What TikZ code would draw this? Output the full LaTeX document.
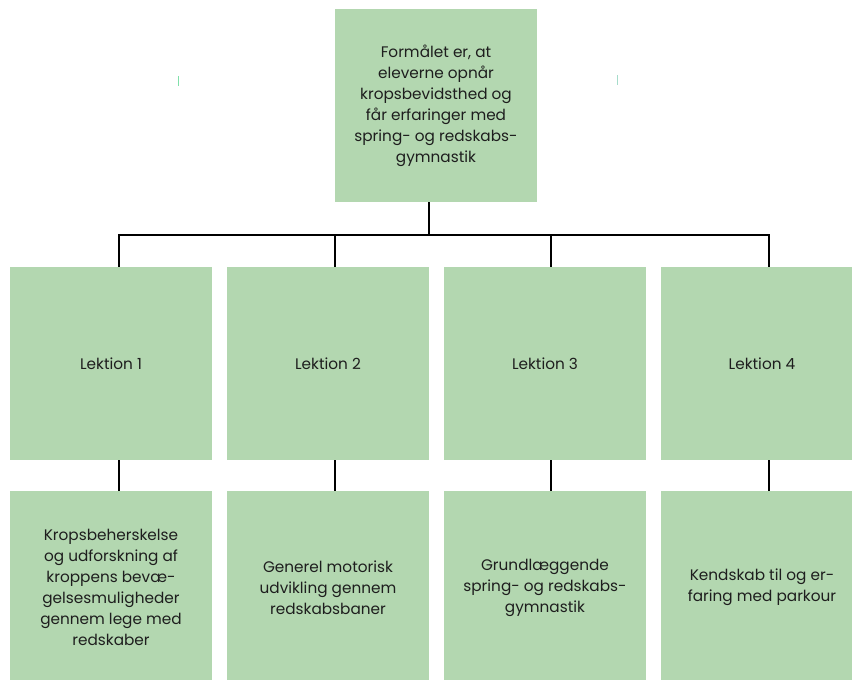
\documentclass[tikz,border=0pt]{standalone}
\usepackage{fontspec}
\setmainfont{Poppins}
\definecolor{boxgreen}{HTML}{B3D7B0}
\definecolor{txt}{HTML}{1E1E1E}
\definecolor{markA}{HTML}{80E0AA}
\definecolor{markB}{HTML}{A6DCCB}
\tikzset{
  box/.style={fill=boxgreen, draw=none, minimum width=202pt, minimum height=193pt,
    inner sep=0pt, align=center, text=txt, font=\fontsize{15.3}{21}\selectfont},
  conn/.style={draw=black, line width=1.2pt},
}
\begin{document}
\begin{tikzpicture}[x=1pt,y=-1pt]
\useasboundingbox (0,0) rectangle (852,680);
\clip (0,0) rectangle (852,680);
\node[box] (top) at (436,105.5) {Formålet er, at\\eleverne opnår\\kropsbevidsthed og\\får erfaringer med\\spring- og redskabs-\\gymnastik};
\node[box] (L1) at (111,363.5) {Lektion 1};
\node[box] (L2) at (328,363.5) {Lektion 2};
\node[box] (L3) at (545,363.5) {Lektion 3};
\node[box] (L4) at (762,363.5) {Lektion 4};
\node[box] (K1) at (111,587.5) {Kropsbeherskelse\\og udforskning af\\kroppens bevæ-\\gelsesmuligheder\\gennem lege med\\redskaber};
\node[box] (K2) at (328,587.5) {Generel motorisk\\udvikling gennem\\redskabsbaner};
\node[box] (K3) at (545,587.5) {Grundlæggende\\spring- og redskabs-\\gymnastik};
\node[box] (K4) at (762,587.5) {Kendskab til og er-\\faring med parkour};
\coordinate (t0) at (429,202);
\coordinate (b1) at (119,235);
\coordinate (b2) at (335,235);
\coordinate (b3) at (551,235);
\coordinate (b4) at (769,235);
\draw[conn] (t0) -- (t0 |- b1);
\draw[conn] (b1 |- L1.north) -- (b1) -- (b4) -- (b4 |- L4.north);
\draw[conn] (b2) -- (b2 |- L2.north);
\draw[conn] (b3) -- (b3 |- L3.north);
\draw[conn] (b1 |- L1.south) -- (b1 |- K1.north);
\draw[conn] (b2 |- L2.south) -- (b2 |- K2.north);
\draw[conn] (b3 |- L3.south) -- (b3 |- K3.north);
\draw[conn] (b4 |- L4.south) -- (b4 |- K4.north);
\draw[markA, line width=1pt] (178,76) -- (178,86);
\draw[markB, line width=1pt] (617,75) -- (617,85);
\end{tikzpicture}
\end{document}
